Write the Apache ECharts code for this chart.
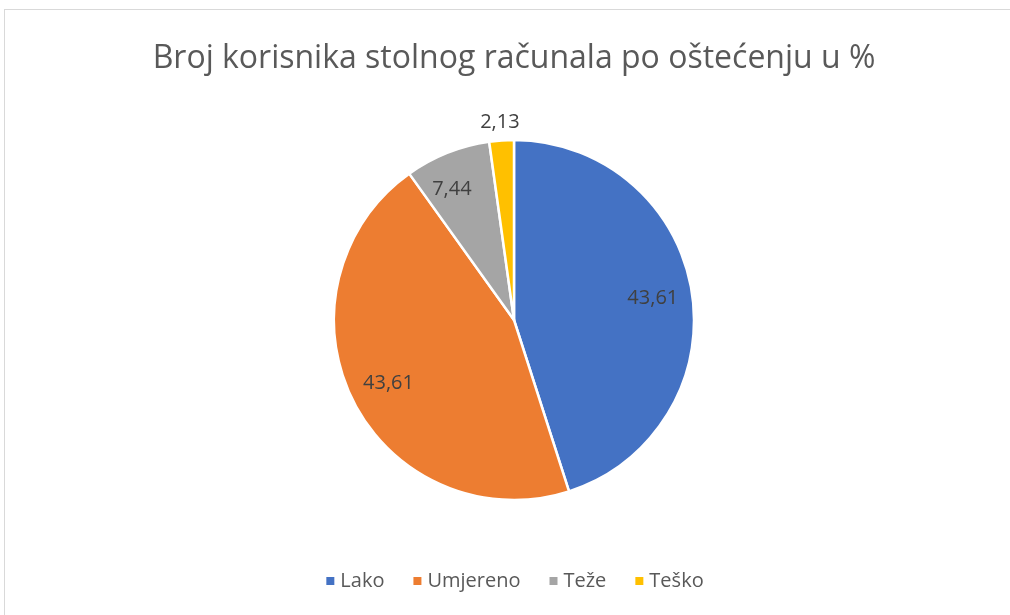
<!DOCTYPE html>
<html>
<head>
<meta charset="utf-8">
<script src="https://cdn.jsdelivr.net/npm/echarts@6/dist/echarts.min.js"></script>
<style>
  html, body { margin: 0; padding: 0; background: #fff; overflow: hidden; }
  #frame { position: absolute; left: 4px; top: 9px; width: 1020px; height: 620px; border: 1px solid #d9d9d9; }
  #main { position: absolute; left: 9px; top: 0; width: 1010px; height: 615px; }
</style>
</head>
<body>
<div id="frame"></div>
<div id="main"></div>
<script>
var titleText = 'Broj korisnika stolnog računala po oštećenju u %';
var categories = ['Lako', 'Umjereno', 'Teže', 'Teško'];
var values = [43.61, 43.61, 7.44, 2.13];
var colors = ['#4472C4', '#ED7D31', '#A5A5A5', '#FFC000'];

window.onload = function() {
  var myChart = echarts.init(document.getElementById('main'));
  var font = '"Open Sans", sans-serif';

  var pieData = categories.map(function(name, i) {
    return { name: name, value: values[i], itemStyle: { color: colors[i] } };
  });

  // 只用来放标签的透明饼图
  var labelData = categories.map(function(name, i) {
    var item = { name: name, value: values[i], itemStyle: { color: 'rgba(0,0,0,0)' } };
    if (i === 3) {
      item.label = { position: 'outside' };
      item.labelLine = { show: false, length: 10, length2: 0 };
    }
    return item;
  });

  var option = {
    backgroundColor: 'transparent',
    animation: false,
    title: {
      text: titleText,
      left: 'center',
      top: 38,
      textStyle: { fontFamily: font, fontSize: 32, fontWeight: 'normal', color: '#595959' }
    },
    legend: {
      bottom: 19,
      left: 'center',
      icon: 'rect',
      itemWidth: 10,
      itemHeight: 10,
      itemGap: 27,
      data: categories,
      textStyle: { fontFamily: font, fontSize: 20, color: '#595959' }
    },
    series: [
      {
        type: 'pie',
        name: 'main',
        center: [505, 320],
        radius: [0, 180],
        startAngle: 90,
        clockwise: true,
        itemStyle: { borderColor: '#fff', borderWidth: 2.5 },
        label: { show: false },
        labelLine: { show: false },
        emphasis: { disabled: true },
        data: pieData
      },
      {
        type: 'pie',
        name: 'labels',
        center: [505, 320],
        radius: [95, 180],
        startAngle: 90,
        clockwise: true,
        silent: true,
        label: {
          show: true,
          position: 'inside',
          fontFamily: font,
          fontSize: 20,
          color: '#404040',
          formatter: function(p) { return String(p.value).replace('.', ','); }
        },
        labelLayout: function(p) {
          if (p.dataIndex === 3) return { align: 'center', dx: 4, dy: -8 };
          if (p.dataIndex === 2) return { dx: -10 };
        },
        labelLine: { show: false },
        emphasis: { disabled: true },
        data: labelData
      }
    ]
  };
  myChart.setOption(option);
};
</script>
</body>
</html>
